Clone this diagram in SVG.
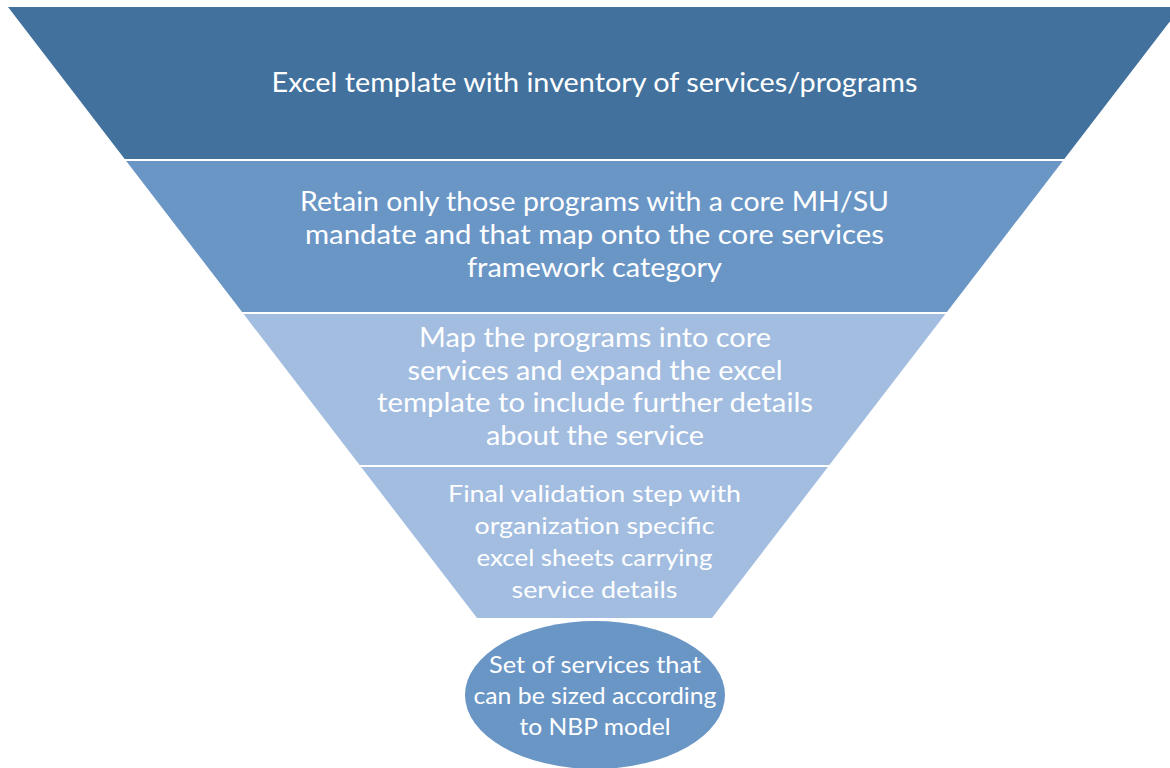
<svg xmlns="http://www.w3.org/2000/svg" width="1170" height="768" viewBox="0 0 1170 768">
  <style>
    .lbl { font-family: Lato, "Liberation Sans", sans-serif; fill: #ffffff; text-anchor: middle; }
    .big { font-size: 27px; }
    .small { font-size: 23px; }
    .b1 { fill: #41719c; }
    .b2 { fill: #6a96c6; }
    .b3 { fill: #a2bde0; }
  </style>
  <rect width="1170" height="768" fill="#ffffff"/>

  <g id="stage-1">
    <polygon class="b1" points="8,7 1181,7 1064.3,159 124.7,159"/>
    <text class="lbl big" x="594.5" y="92" textLength="646" lengthAdjust="spacingAndGlyphs">Excel template with inventory of services/programs</text>
  </g>

  <g id="stage-2">
    <polygon class="b2" points="126.2,161 1062.8,161 946.9,312 242.1,312"/>
    <text class="lbl big" x="594.5" y="211" textLength="589" lengthAdjust="spacingAndGlyphs">Retain only those programs with a core MH/SU</text>
    <text class="lbl big" x="594.5" y="244" textLength="579" lengthAdjust="spacingAndGlyphs">mandate and that map onto the core services</text>
    <text class="lbl big" x="594.5" y="277" textLength="255" lengthAdjust="spacingAndGlyphs">framework category</text>
  </g>

  <g id="stage-3">
    <polygon class="b3" points="243.6,314 945.4,314 829.4,465 359.6,465"/>
    <text class="lbl big" x="595" y="347" textLength="352" lengthAdjust="spacingAndGlyphs">Map the programs into core</text>
    <text class="lbl big" x="595" y="380" textLength="375" lengthAdjust="spacingAndGlyphs">services and expand the excel</text>
    <text class="lbl big" x="595" y="412" textLength="436" lengthAdjust="spacingAndGlyphs">template to include further details</text>
    <text class="lbl big" x="595" y="445" textLength="218" lengthAdjust="spacingAndGlyphs">about the service</text>
  </g>

  <g id="stage-4">
    <polygon class="b3" points="361.1,467 827.9,467 712,618 477,618"/>
    <text class="lbl small" x="594.5" y="502" textLength="293" lengthAdjust="spacingAndGlyphs">Final validation step with</text>
    <text class="lbl small" x="594.5" y="534" textLength="240" lengthAdjust="spacingAndGlyphs">organization specific</text>
    <text class="lbl small" x="594.5" y="566" textLength="236" lengthAdjust="spacingAndGlyphs">excel sheets carrying</text>
    <text class="lbl small" x="594.5" y="598" textLength="166" lengthAdjust="spacingAndGlyphs">service details</text>
  </g>

  <g id="result">
    <ellipse class="b2" cx="595" cy="695" rx="130" ry="74"/>
    <text class="lbl small" x="595" y="673" textLength="212" lengthAdjust="spacingAndGlyphs">Set of services that</text>
    <text class="lbl small" x="595" y="704" textLength="243" lengthAdjust="spacingAndGlyphs">can be sized according</text>
    <text class="lbl small" x="595" y="735" textLength="151" lengthAdjust="spacingAndGlyphs">to NBP model</text>
  </g>
</svg>
